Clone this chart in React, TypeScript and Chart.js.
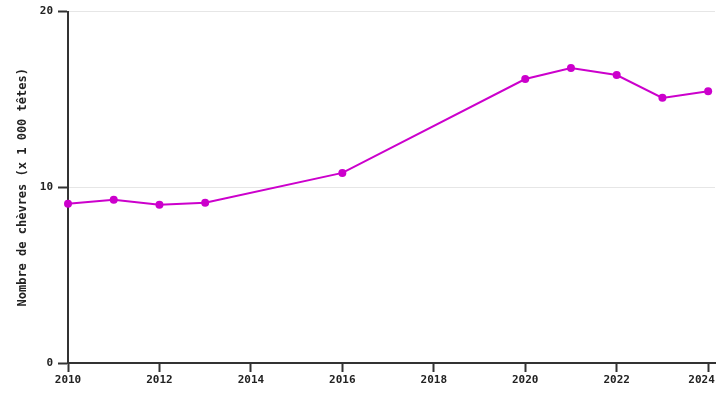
import React, { useEffect, useRef } from "react";
import { Chart, registerables } from "chart.js";
Chart.register(...registerables);

const years = [2010, 2011, 2012, 2013, 2016, 2020, 2021, 2022, 2023, 2024];
const goats = [9.07, 9.29, 9.01, 9.12, 10.82, 16.16, 16.79, 16.39, 15.09, 15.47];
const xTicks = [2010, 2012, 2014, 2016, 2018, 2020, 2022, 2024];
const yTicks = [0, 10, 20];
const yTitle = "Nombre de chèvres (x 1 000 têtes)";

export default function App() {
  const ref = useRef<HTMLCanvasElement>(null);
  useEffect(() => {
    const font = { family: "'DejaVu Sans Mono', monospace", size: 11, weight: "bold" as const };
    const chart = new Chart(ref.current!, {
      type: "line",
      data: {
        datasets: [
          {
            data: years.map((x, i) => ({ x, y: goats[i] })),
            borderColor: "#cc00cc",
            backgroundColor: "#cc00cc",
            borderWidth: 2,
            pointRadius: 4,
            pointHoverRadius: 4,
            pointBorderWidth: 0,
            tension: 0,
            clip: false,
          } as any,
        ],
      },
      options: {
        animation: false,
        responsive: false,
        maintainAspectRatio: false,
        layout: { padding: { left: 0, right: 10, top: 9, bottom: 0 } },
        plugins: { legend: { display: false }, tooltip: { enabled: false } },
        scales: {
          x: {
            type: "linear",
            min: 2010,
            max: 2024.15,
            afterBuildTicks: (s: any) => {
              s.ticks = xTicks.map((v) => ({ value: v }));
            },
            afterFit: (s: any) => {
              s.height = 37;
              s.paddingLeft = 0;
              s.paddingRight = 0;
            },
            ticks: {
              font,
              color: "#222",
              padding: 2,
              maxRotation: 0,
              callback: (v: any) => (v === 2024 ? String(v) + "  " : String(v)),
            },
            grid: { drawOnChartArea: false, tickLength: 9, tickColor: "#333", tickWidth: 2 },
            border: { display: true, color: "#333", width: 2 },
          },
          y: {
            min: 0,
            max: 20,
            afterBuildTicks: (s: any) => {
              s.ticks = yTicks.map((v) => ({ value: v }));
            },
            afterFit: (s: any) => {
              s.width = 68;
            },
            ticks: { font, color: "#222", padding: 5 },
            grid: { color: "#e6e6e6", lineWidth: 1, tickLength: 10, tickColor: "#333", tickWidth: 2 },
            border: { display: true, color: "#333", width: 2 },
            title: {
              display: true,
              text: yTitle,
              font: { family: "'DejaVu Sans Mono', monospace", size: 12, weight: "bold" },
              color: "#222",
              padding: { top: 16, bottom: 0 },
            },
          },
        },
      },
    });
    return () => chart.destroy();
  }, []);
  return (
    <div style={{ position: "fixed", left: 0, top: 0, width: 725, height: 400, background: "#fff" }}>
      <canvas ref={ref} width={725} height={400} style={{ width: 725, height: 400 }} />
    </div>
  );
}
